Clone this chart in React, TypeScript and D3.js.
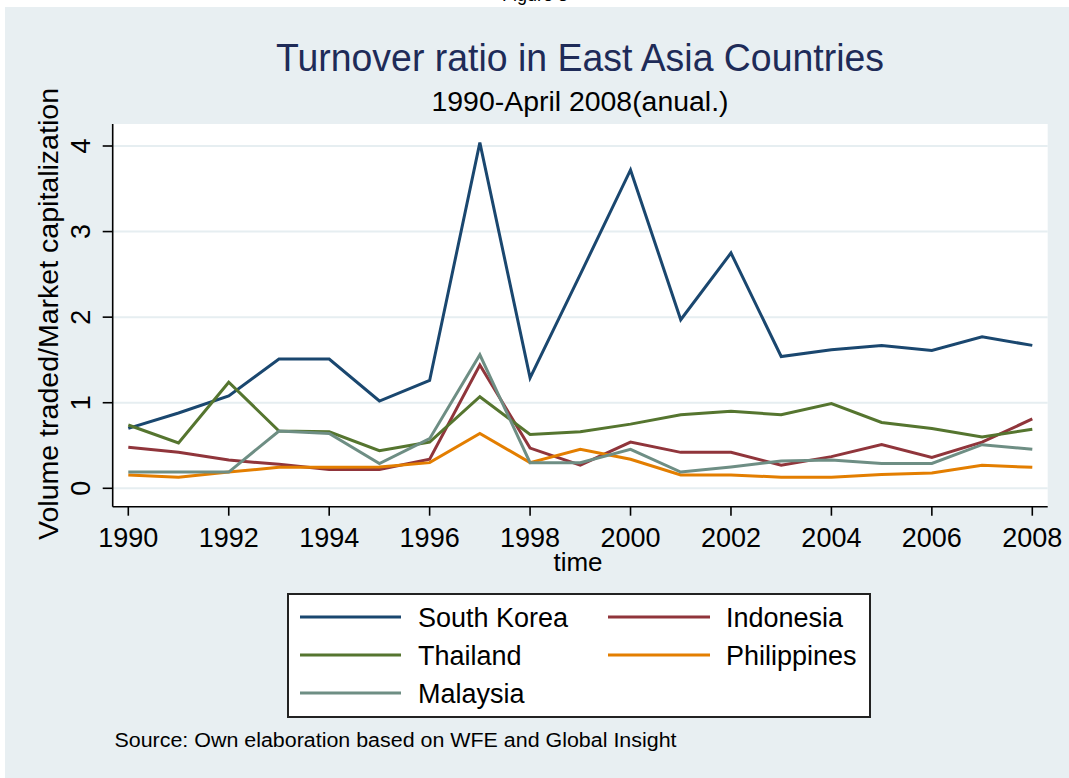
import React from "react";
import * as d3 from "d3";

const years = [1990, 1991, 1992, 1993, 1994, 1995, 1996, 1997, 1998, 1999, 2000, 2001, 2002, 2003, 2004, 2005, 2006, 2007, 2008];
const southKorea = [0.70, 0.88, 1.08, 1.51, 1.51, 1.02, 1.26, 4.04, 1.29, 2.50, 3.72, 1.97, 2.75, 1.54, 1.62, 1.67, 1.61, 1.77, 1.67];
const indonesia = [0.48, 0.42, 0.33, 0.28, 0.22, 0.22, 0.34, 1.44, 0.47, 0.27, 0.54, 0.42, 0.42, 0.27, 0.37, 0.51, 0.36, 0.54, 0.81];
const thailand = [0.74, 0.53, 1.24, 0.67, 0.66, 0.44, 0.54, 1.07, 0.63, 0.66, 0.75, 0.86, 0.90, 0.86, 0.99, 0.77, 0.70, 0.60, 0.69];
const philippines = [0.155, 0.13, 0.19, 0.245, 0.245, 0.25, 0.30, 0.64, 0.30, 0.455, 0.34, 0.155, 0.155, 0.13, 0.13, 0.16, 0.18, 0.27, 0.245];
const malaysia = [0.19, 0.19, 0.19, 0.67, 0.64, 0.29, 0.58, 1.56, 0.30, 0.30, 0.455, 0.19, 0.25, 0.32, 0.33, 0.29, 0.29, 0.51, 0.455];

const seriesNames = ["South Korea", "Indonesia", "Thailand", "Philippines", "Malaysia"];
const seriesColors = ["#1a476f", "#90353b", "#55752f", "#e37e00", "#6e8e84"];
const seriesValues = [southKorea, indonesia, thailand, philippines, malaysia];

const xTicks = [1990, 1992, 1994, 1996, 1998, 2000, 2002, 2004, 2006, 2008];
const yTicks = [0, 1, 2, 3, 4];

const FONT = "'Liberation Sans', Arial, sans-serif";

export default function App() {
  const W = 1069, H = 778;
  const plotL = 112.7, plotR = 1047.7, plotT = 124, plotB = 506.7;
  const x = d3.scaleLinear().domain([1990, 2008]).range([128.3, 1032.3]);
  const y = d3.scaleLinear().domain([0, 4]).range([488.3, 146]);
  const line = d3.line<number>().x((_, i) => x(years[i])).y((d) => y(d));

  const legendItems = seriesNames.map((n, i) => ({
    name: n,
    color: seriesColors[i],
    col: i % 2,
    row: Math.floor(i / 2),
  }));
  const legCols = [{ lx1: 300, lx2: 401, tx: 418 }, { lx1: 608, lx2: 710, tx: 726 }];
  const legRows = [617, 655, 693];

  return (
    <svg width={W} height={H} style={{ position: "absolute", left: 0, top: 0 }} fontFamily={FONT}>
      <rect x={0} y={0} width={W} height={H} fill="#ffffff" />
      <text x={535} y={1} fontSize={18} textAnchor="middle" fill="#000">Figure 3</text>
      <rect x={5} y={7} width={W - 5} height={H - 7} fill="#e8eff2" />
      <rect x={plotL} y={plotT} width={plotR - plotL} height={plotB - plotT} fill="#ffffff" />
      {yTicks.map((t) => (
        <line key={"g" + t} x1={plotL} x2={plotR} y1={y(t)} y2={y(t)} stroke="#e6eef1" strokeWidth={2} />
      ))}
      {seriesValues.map((vals, i) => (
        <path key={seriesNames[i]} d={line(vals) || ""} fill="none" stroke={seriesColors[i]} strokeWidth={3} strokeLinejoin="miter" />
      ))}
      {/* axes */}
      <line x1={plotL} x2={plotL} y1={plotT} y2={plotB} stroke="#000" strokeWidth={1.6} />
      <line x1={plotL} x2={plotR} y1={plotB} y2={plotB} stroke="#000" strokeWidth={1.6} />
      {yTicks.map((t) => (
        <g key={"yt" + t}>
          <line x1={plotL - 10} x2={plotL} y1={y(t)} y2={y(t)} stroke="#000" strokeWidth={1.6} />
          <text transform={`translate(90,${y(t)}) rotate(-90)`} textAnchor="middle" fontSize={27} fill="#000">{t}</text>
        </g>
      ))}
      {xTicks.map((t) => (
        <g key={"xt" + t}>
          <line x1={x(t)} x2={x(t)} y1={plotB} y2={plotB + 9} stroke="#000" strokeWidth={1.6} />
          <text x={x(t)} y={547} textAnchor="middle" fontSize={27} fill="#000">{t}</text>
        </g>
      ))}
      <text x={578} y={571} textAnchor="middle" fontSize={26} fill="#000">time</text>
      <text transform={`translate(58,314) rotate(-90)`} textAnchor="middle" fontSize={27} fill="#000" textLength={452} lengthAdjust="spacingAndGlyphs">Volume traded/Market capitalization</text>
      {/* titles */}
      <text x={580} y={71} textAnchor="middle" fontSize={38} fill="#1e2b58" textLength={608} lengthAdjust="spacingAndGlyphs">Turnover ratio in East Asia Countries</text>
      <text x={580} y={111} textAnchor="middle" fontSize={27} fill="#000" textLength={297} lengthAdjust="spacingAndGlyphs">1990-April 2008(anual.)</text>
      {/* legend */}
      <rect x={288} y={594} width={582} height={123} fill="#ffffff" stroke="#222" strokeWidth={2} />
      {legendItems.map((it) => (
        <g key={"lg" + it.name}>
          <line x1={legCols[it.col].lx1} x2={legCols[it.col].lx2} y1={legRows[it.row]} y2={legRows[it.row]} stroke={it.color} strokeWidth={3} />
          <text x={legCols[it.col].tx} y={legRows[it.row] + 10} fontSize={27} fill="#000">{it.name}</text>
        </g>
      ))}
      <text x={114.5} y={747} fontSize={20} fill="#000" textLength={562} lengthAdjust="spacingAndGlyphs">Source: Own elaboration based on WFE and Global Insight</text>
    </svg>
  );
}
